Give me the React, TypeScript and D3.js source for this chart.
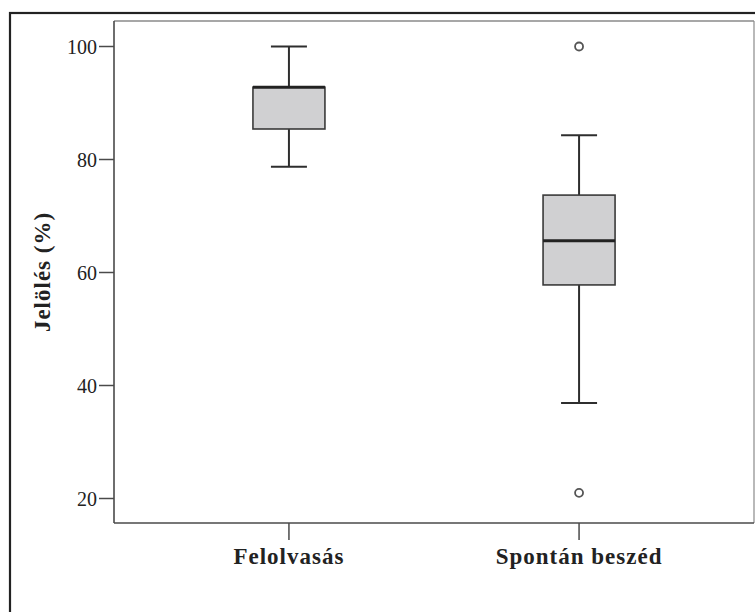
import React from "react";
import * as d3 from "d3";

const categories = ["Felolvasás", "Spontán beszéd"];
const whiskerLow = [78.7, 36.9];
const q1 = [85.4, 57.8];
const median = [92.8, 65.6];
const q3 = [92.8, 73.7];
const whiskerHigh = [100, 84.3];
const outliers: number[][] = [[], [100, 21]];
const yTicks = [20, 40, 60, 80, 100];
const yLabel = "Jelölés (%)";

const W = 755;
const H = 612;
const plot = { left: 114, right: 754, top: 21, bottom: 523 };

export default function App() {
  const y = d3.scaleLinear().domain([20, 100]).range([498.5, 46.5]);
  const x = d3
    .scalePoint<string>()
    .domain(categories)
    .range([plot.left, plot.right])
    .padding(0.603);
  const boxW = 72;
  const capW = 36;
  const dark = "#2e2e2e";

  return (
    <svg
      width={W}
      height={H}
      style={{ position: "absolute", left: 0, top: 0, background: "#fff" }}
      fontFamily="'Liberation Serif', 'Times New Roman', serif"
    >
      <rect x={0} y={0} width={W} height={H} fill="#fff" />
      {/* outer frame */}
      <rect x={10} y={13} width={800} height={700} fill="none" stroke="#222" strokeWidth={2.2} />
      {/* plot frame */}
      <line x1={plot.left} x2={plot.right} y1={plot.top} y2={plot.top} stroke="#8a8a8a" strokeWidth={1.6} />
      <line x1={plot.right} x2={plot.right} y1={plot.top} y2={plot.bottom} stroke="#8a8a8a" strokeWidth={1.2} />
      <line x1={plot.left} x2={plot.left} y1={plot.top} y2={plot.bottom} stroke="#4a4a4a" strokeWidth={1.6} />
      <line x1={plot.left} x2={plot.right} y1={plot.bottom} y2={plot.bottom} stroke="#4a4a4a" strokeWidth={1.6} />

      {/* y ticks */}
      {yTicks.map((t) => (
        <g key={t}>
          <line x1={99} x2={plot.left} y1={y(t)} y2={y(t)} stroke="#4a4a4a" strokeWidth={1.5} />
          <text x={97} y={y(t)} dy="0.35em" textAnchor="end" fontSize={20} fill="#222">
            {t}
          </text>
        </g>
      ))}

      {/* x ticks */}
      {categories.map((c) => (
        <g key={c}>
          <line x1={x(c)} x2={x(c)} y1={plot.bottom} y2={540} stroke="#4a4a4a" strokeWidth={1.5} />
          <text
            x={x(c)}
            y={564}
            textAnchor="middle"
            fontSize={23}
            fontWeight="bold"
            letterSpacing={1}
            fill="#222"
          >
            {c}
          </text>
        </g>
      ))}

      {/* y label */}
      <text
        transform={`translate(50, ${(plot.top + plot.bottom) / 2}) rotate(-90)`}
        textAnchor="middle"
        fontSize={23}
        fontWeight="bold"
        letterSpacing={1}
        fill="#222"
      >
        {yLabel}
      </text>

      {/* boxes */}
      {categories.map((c, i) => {
        const cx = x(c) as number;
        return (
          <g key={c}>
            <line x1={cx} x2={cx} y1={y(whiskerHigh[i])} y2={y(q3[i])} stroke={dark} strokeWidth={2} />
            <line x1={cx} x2={cx} y1={y(q1[i])} y2={y(whiskerLow[i])} stroke={dark} strokeWidth={2} />
            <line x1={cx - capW / 2} x2={cx + capW / 2} y1={y(whiskerHigh[i])} y2={y(whiskerHigh[i])} stroke={dark} strokeWidth={2} />
            <line x1={cx - capW / 2} x2={cx + capW / 2} y1={y(whiskerLow[i])} y2={y(whiskerLow[i])} stroke={dark} strokeWidth={2} />
            <rect
              x={cx - boxW / 2}
              y={y(q3[i])}
              width={boxW}
              height={y(q1[i]) - y(q3[i])}
              fill="#d0d0d2"
              stroke="#3a3a3a"
              strokeWidth={1.6}
            />
            <line x1={cx - boxW / 2} x2={cx + boxW / 2} y1={y(median[i])} y2={y(median[i])} stroke="#222" strokeWidth={3} />
            {outliers[i].map((o, j) => (
              <circle key={j} cx={cx} cy={y(o)} r={4} fill="#fff" stroke="#555" strokeWidth={1.8} />
            ))}
          </g>
        );
      })}
    </svg>
  );
}
